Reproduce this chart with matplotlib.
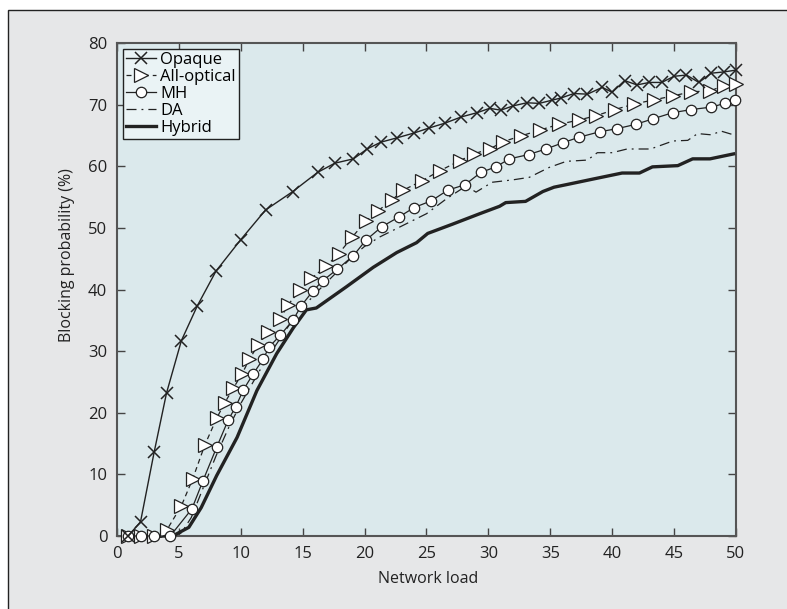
import matplotlib
matplotlib.use("Agg")
import matplotlib.pyplot as plt
from matplotlib.patches import Rectangle

plt.rcParams['font.family'] = ['Open Sans', 'DejaVu Sans']

# ---- data ----
opaque_x = [0.9, 1.9, 3.0, 4.0, 5.2, 6.5, 8.0, 10.0, 12.0, 14.2, 16.2, 17.6, 19.1, 20.2,
            21.3, 22.6, 24.0, 25.2, 26.5, 27.8, 29.1, 30.1, 31.0, 32.0, 33.1, 34.1, 35.1,
            35.9, 36.9, 38.0, 39.2, 40.0, 41.0, 42.0, 43.0, 44.0, 45.0, 46.0, 47.0, 48.0,
            49.0, 50.0]
opaque_y = [0.0, 2.3, 13.6, 23.2, 31.7, 37.4, 43.0, 48.1, 52.9, 55.9, 59.0, 60.5, 61.2, 62.8,
            63.9, 64.6, 65.4, 66.2, 67.0, 68.0, 68.7, 69.4, 69.1, 69.8, 70.3, 70.2, 70.7,
            71.1, 71.8, 71.7, 72.8, 72.0, 73.9, 73.2, 73.6, 73.6, 74.6, 74.8, 73.6, 75.1,
            75.3, 75.6]

allopt_x = [0.9, 1.9, 3.0, 4.0, 5.2, 6.1, 7.1, 8.05, 8.7, 9.4, 10.1, 10.7, 11.4, 12.2, 13.2,
            13.8, 14.8, 15.7, 16.9, 17.9, 19.0, 20.1, 21.1, 22.2, 23.1, 24.6, 26.1, 27.7,
            28.8, 30.1, 31.2, 32.6, 34.2, 35.7, 37.3, 38.7, 40.2, 41.8, 43.4, 44.9, 46.4,
            47.9, 49.0, 50.0]
allopt_y = [0.0, 0.0, 0.0, 0.9, 4.9, 9.2, 14.8, 19.1, 21.6, 24.0, 26.3, 28.7, 31.0, 33.1, 35.2,
            37.5, 39.9, 41.8, 43.8, 45.8, 48.5, 51.1, 52.8, 54.5, 56.1, 57.6, 59.3, 60.9,
            62.0, 62.8, 64.0, 64.9, 65.9, 66.8, 67.5, 68.2, 69.2, 70.1, 70.8, 71.4, 72.1,
            72.2, 73.1, 73.3]

mh_x = [0.9, 1.9, 3.0, 4.3, 6.05, 6.95, 8.05, 9.0, 9.6, 10.2, 11.0, 11.8, 12.3, 13.2, 14.2,
        14.9, 15.8, 16.6, 17.8, 19.1, 20.1, 21.4, 22.8, 24.0, 25.4, 26.7, 28.1, 29.4, 30.6,
        31.7, 33.25, 34.65, 36.0, 37.3, 39.0, 40.4, 41.9, 43.3, 44.9, 46.4, 48.0, 49.1, 49.9]
mh_y = [0.0, 0.0, 0.0, 0.0, 4.4, 9.0, 14.4, 18.9, 21.0, 23.7, 26.3, 28.7, 30.7, 32.6, 35.0,
        37.4, 39.7, 41.4, 43.3, 45.5, 48.0, 50.2, 51.8, 53.3, 54.4, 56.1, 57.0, 59.0, 59.9,
        61.2, 61.9, 62.8, 63.8, 64.7, 65.6, 66.1, 66.8, 67.7, 68.7, 69.2, 69.6, 70.2, 70.8]

da_x = [0.9, 3.0, 4.5, 5.2, 6.0, 7.0, 8.0, 9.0, 10.0, 11.0, 12.0, 13.0, 14.0, 15.0, 16.0,
        17.0, 18.0, 19.0, 20.0, 21.2, 23.1, 25.0, 26.6, 28.2, 29.0, 30.3, 32.0, 33.3, 34.9,
        36.3, 38.0, 38.8, 40.0, 41.2, 43.1, 44.9, 46.1, 46.9, 48.0, 48.8, 49.8]
da_y = [0.0, 0.0, 0.0, 0.5, 3.0, 8.0, 13.0, 17.5, 21.5, 25.0, 28.5, 31.5, 34.5, 37.0, 39.3,
        41.3, 43.3, 45.3, 47.0, 48.5, 50.4, 52.3, 54.7, 56.8, 55.8, 57.4, 57.8, 58.2, 59.8,
        60.8, 61.0, 62.2, 62.2, 62.8, 62.8, 64.1, 64.2, 65.3, 65.1, 65.7, 65.1]

hyb_x = [0.8, 4.5, 5.8, 6.8, 8.05, 9.7, 11.3, 12.9, 14.25, 15.3, 16.1, 18.5, 20.7, 22.6,
         24.2, 25.1, 27.1, 29.3, 30.9, 31.4, 33.0, 34.4, 35.3, 36.5, 38.4, 40.8, 42.2,
         43.25, 45.3, 46.5, 47.9, 49.8]
hyb_y = [0.0, 0.0, 1.4, 4.6, 9.8, 16.0, 23.6, 29.6, 33.8, 36.7, 37.0, 40.4, 43.6, 46.0,
         47.6, 49.1, 50.6, 52.3, 53.5, 54.1, 54.3, 55.9, 56.6, 57.1, 57.9, 58.9, 58.9,
         59.9, 60.1, 61.2, 61.2, 62.0]

x_ticks = [0, 5, 10, 15, 20, 25, 30, 35, 40, 45, 50]
y_ticks = [0, 10, 20, 30, 40, 50, 60, 70, 80]

# ---- figure ----
fig = plt.figure(figsize=(7.87, 6.09), dpi=100, facecolor='white')
panel = Rectangle((8 / 787, -0.05), 1.2, 1 - 9.5 / 609 + 0.05, transform=fig.transFigure,
                  facecolor='#e6e7e8', edgecolor='#222222', linewidth=1.0, zorder=-10)
fig.patches.append(panel)

ax = fig.add_axes([117 / 787, 1 - 536 / 609, (736 - 117) / 787, (536 - 43) / 609])
ax.set_facecolor('#dbe9ec')

ax.plot(opaque_x, opaque_y, color='#222222', lw=1.0, marker='x', ms=8, mew=1.1,
        label='Opaque', clip_on=False, zorder=5)
ax.plot(allopt_x, allopt_y, color='#222222', lw=0.9, ls=(0, (4, 3)), marker='>', ms=10,
        mfc='white', mec='#222222', mew=0.9, label='All-optical', clip_on=False, zorder=4)
ax.plot(mh_x, mh_y, color='#222222', lw=0.9, marker='o', ms=7.5, mfc='white', mec='#222222',
        mew=0.9, label='MH', clip_on=False, zorder=4)
ax.plot(da_x, da_y, color='#222222', lw=0.9, ls=(0, (8, 4, 1.5, 4)), label='DA',
        clip_on=False, zorder=3)
ax.plot(hyb_x, hyb_y, color='#222222', lw=2.4, label='Hybrid', clip_on=False, zorder=3)

ax.set_xlim(0, 50)
ax.set_ylim(0, 80)
ax.set_xticks(x_ticks)
ax.set_yticks(y_ticks)
ax.tick_params(direction='in', length=6, width=1.0, color='#444444', labelsize=12,
               top=True, right=True, labelcolor='#222222')
ax.tick_params(axis='x', pad=7)
ax.tick_params(axis='y', pad=7)
for s in ax.spines.values():
    s.set_color('#555555')
    s.set_linewidth(1.5)

ax.set_xlabel('Network load', fontsize=11.5, color='#222222')
ax.set_ylabel('Blocking probability (%)', fontsize=11.5, color='#222222')
ax.xaxis.set_label_coords(0.502, -0.07)
ax.yaxis.set_label_coords(-0.068, 0.57)

leg = ax.legend(loc='upper left', fontsize=12, frameon=True, fancybox=False,
                edgecolor='#222222', facecolor='#eaf3f5', framealpha=1.0,
                handlelength=1.8, handletextpad=0.25, labelspacing=0.05,
                borderpad=0.2, borderaxespad=0.35)
leg.get_frame().set_linewidth(1.0)

fig.savefig('out.png', dpi=100)
